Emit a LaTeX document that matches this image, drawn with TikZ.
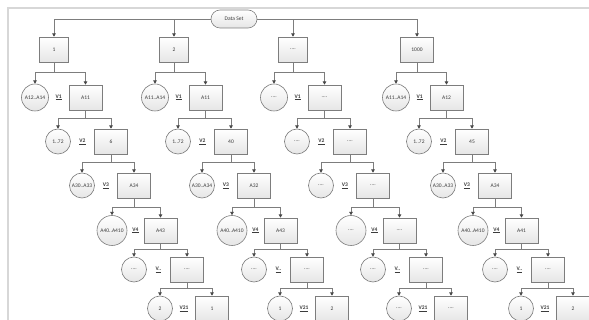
\documentclass[tikz,border=0pt]{standalone}
\usepackage{fontspec}
\setmainfont{Carlito}
\usetikzlibrary{arrows.meta,calc,shapes.misc}
\definecolor{edgegray}{RGB}{125,125,125}
\definecolor{tipgray}{RGB}{70,70,70}
\definecolor{framegray}{RGB}{215,215,215}
\definecolor{txtgray}{RGB}{60,60,60}
\tikzset{
  bx/.style={draw=edgegray, line width=0.6pt, top color=white, bottom color=black!10,
    minimum width=33pt, minimum height=25pt, inner sep=1pt, text=txtgray,
    font=\fontsize{5.5}{6}\selectfont},
  bxtop/.style={bx, minimum width=29pt},
  circ/.style={circle, draw=edgegray, line width=0.6pt, top color=white, bottom color=black!10,
    minimum size=25pt, inner sep=0.3pt, text=txtgray, font=\fontsize{5.5}{6}\selectfont},
  lv2/.style={minimum size=27pt},
  lv5/.style={minimum size=30pt},
  vlab/.style={inner sep=0pt, text=txtgray, font=\fontsize{5.5}{6}\selectfont\bfseries},
  seg/.style={draw=edgegray, line width=0.7pt},
  conn/.style={seg, -{Triangle[length=3.2pt,width=3.4pt,color=tipgray]}},
  frame/.style={draw=framegray, line width=1.2pt},
}
% #1 prefix, #2 level, #3 circle x, #4 box x, #5 y, #6 circle text, #7 box text, #8 V label, #9 parent level
\newcommand\lvl[9]{%
  \node[circ, lv#2/.try] (#1c#2) at ({\T+#3},#5) {#6};
  \node[bx] (#1b#2) at ({\T+#4},#5) {#7};
  \node[vlab] (#1v#2) at ($(#1c#2.east)!0.5!(#1b#2.west)$) {\underline{#8}};
  \coordinate (#1j#2) at ($(#1b#9.south)!0.45!(#1b#9.south |- #1b#2.north)$);
  \draw[seg] (#1b#9.south) -- (#1j#2);
  \draw[conn] (#1j#2) -| (#1c#2.north);
  \draw[conn] (#1j#2) -| (#1b#2.north);
}
\begin{document}
\begin{tikzpicture}[x=1pt,y=-1pt]
\useasboundingbox[fill=white] (0,0) rectangle (589,320);
\draw[frame] (8,321) -- (8,8) -- (590,8);
\node[rounded rectangle, draw=edgegray, line width=0.6pt, top color=white, bottom color=black!10,
  minimum width=48pt, minimum height=18pt, inner sep=1pt, text=txtgray,
  font=\fontsize{5.5}{6}\selectfont] (ds) at (234,19) {Data Set};
% Tree 1
\def\T{0}
\node[bxtop] (Ab1) at ({\T+54},49.5) {1};
\lvl{A}{2}{35}{85.5}{97.5}{A12..A14}{A11}{V1}{1}
\lvl{A}{3}{58}{111}{141.5}{1..72}{6}{V2}{2}
\lvl{A}{4}{82}{134}{185.5}{A30..A33}{A34}{V3}{3}
\lvl{A}{5}{112}{160.5}{230.5}{A40..A410}{A43}{V4}{4}
\lvl{A}{6}{134}{187}{269.5}{....}{....}{V..}{5}
\lvl{A}{7}{160}{212}{308.5}{2}{1}{V21}{6}
% Tree 2
\def\T{120}
\node[bxtop] (Bb1) at ({\T+54},49.5) {2};
\lvl{B}{2}{35}{85.5}{97.5}{A11..A14}{A11}{V1}{1}
\lvl{B}{3}{58}{111}{141.5}{1..72}{40}{V2}{2}
\lvl{B}{4}{82}{134}{185.5}{A30..A34}{A32}{V3}{3}
\lvl{B}{5}{112}{160.5}{230.5}{A40..A410}{A43}{V4}{4}
\lvl{B}{6}{134}{187}{269.5}{....}{....}{V..}{5}
\lvl{B}{7}{160}{212}{308.5}{1}{2}{V21}{6}
% Tree 3
\def\T{239}
\node[bxtop] (Cb1) at ({\T+54},49.5) {....};
\lvl{C}{2}{35}{85.5}{97.5}{....}{....}{V1}{1}
\lvl{C}{3}{58}{111}{141.5}{....}{....}{V2}{2}
\lvl{C}{4}{82}{134}{185.5}{....}{....}{V3}{3}
\lvl{C}{5}{112}{160.5}{230.5}{....}{....}{V4}{4}
\lvl{C}{6}{134}{187}{269.5}{....}{....}{V..}{5}
\lvl{C}{7}{160}{212}{308.5}{....}{....}{V21}{6}
% Tree 4
\def\T{361}
\node[bx] (Db1) at ({\T+56},49.5) {1000};
\lvl{D}{2}{35}{85.5}{97.5}{A11..A14}{A12}{V1}{1}
\lvl{D}{3}{58}{111}{141.5}{1..72}{45}{V2}{2}
\lvl{D}{4}{82}{134}{185.5}{A30..A33}{A34}{V3}{3}
\lvl{D}{5}{112}{160.5}{230.5}{A40..A410}{A41}{V4}{4}
\lvl{D}{6}{134}{187}{269.5}{....}{....}{V..}{5}
\lvl{D}{7}{160}{212}{308.5}{1}{2}{V21}{6}
% Top connectors
\draw[conn] (ds.west) -| (Ab1.north);
\draw[conn] (ds.west) -| (Bb1.north);
\draw[conn] (ds.east) -| (Cb1.north);
\draw[conn] (ds.east) -| (Db1.north);
\end{tikzpicture}
\end{document}
